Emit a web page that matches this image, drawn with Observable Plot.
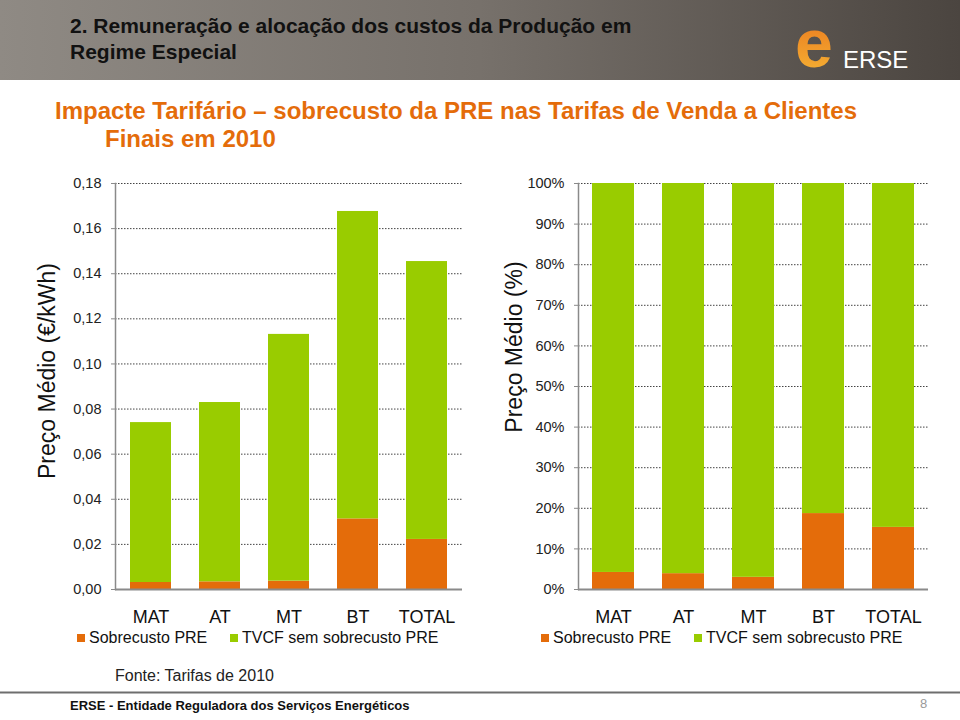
<!DOCTYPE html>
<html>
<head>
<meta charset="utf-8">
<script src="https://cdn.jsdelivr.net/npm/d3@7"></script>
<script src="https://cdn.jsdelivr.net/npm/@observablehq/plot@0.6"></script>
<style>
  html, body { margin: 0; padding: 0; background: #fff; }
  #page { position: relative; width: 960px; height: 720px; overflow: hidden; background: #fff;
          font-family: "Liberation Sans", Arial, sans-serif; }
  #deco { position: absolute; left: 0; top: 0; }
  .chart { position: absolute; top: 170px; }
  #left { left: 0; }
  #right { left: 480px; }
</style>
</head>
<body>
<div id="page">
  <svg id="deco" width="960" height="720"></svg>
  <div class="chart" id="left"></div>
  <div class="chart" id="right"></div>
</div>
<script>
// ---- data ----
const categories = ["MAT", "AT", "MT", "BT", "TOTAL"];
const seriesNames = ["Sobrecusto PRE", "TVCF sem sobrecusto PRE"];
const seriesColors = ["#E46C0A", "#99CC00"];

// €/kWh
const sobrecustoEur = [0.0031, 0.0034, 0.0037, 0.0313, 0.0222];
const tvcfEur = [0.0709, 0.0795, 0.1094, 0.1363, 0.1232];
// %
const sobrecustoPct = [4.2, 3.9, 3.0, 18.7, 15.3];
const tvcfPct = [95.8, 96.1, 97.0, 81.3, 84.7];

const yTicksEur = [0, 0.02, 0.04, 0.06, 0.08, 0.10, 0.12, 0.14, 0.16, 0.18];
const yTicksPct = [0, 10, 20, 30, 40, 50, 60, 70, 80, 90, 100];

const titleLines = ["2. Remuneração e alocação dos custos da Produção em", "Regime Especial"];
const subtitleLines = ["Impacte Tarifário – sobrecusto da PRE nas Tarifas de Venda a Clientes", "Finais em 2010"];
const yLabelEur = "Preço Médio (€/kWh)";
const yLabelPct = "Preço Médio (%)";
const sourceText = "Fonte: Tarifas de 2010";
const footerText = "ERSE - Entidade Reguladora dos Serviços Energéticos";
const pageNumber = "8";

function rowsFrom(a, b) {
  const rows = [];
  categories.forEach((c, i) => {
    rows.push({cat: c, series: seriesNames[0], value: a[i]});
    rows.push({cat: c, series: seriesNames[1], value: b[i]});
  });
  return rows;
}

function makeChart({rows, domain, ticks, fmt, marginLeft, marginRight}) {
  return Plot.plot({
    width: 480, height: 480,
    marginLeft, marginRight, marginTop: 13, marginBottom: 61,
    style: {fontFamily: "'Liberation Sans', Arial, sans-serif", fontSize: "14px", color: "#222", background: "transparent", overflow: "visible"},
    x: {domain: categories, paddingInner: 0.4, paddingOuter: 0.2, label: null},
    y: {domain, label: null},
    color: {domain: seriesNames, range: seriesColors},
    marks: [
      Plot.gridY(ticks, {stroke: "#444", strokeOpacity: 1, strokeDasharray: "1.5,1.5", strokeWidth: 1}),
      Plot.barY(rows, {x: "cat", y: "value", fill: "series"}),
      Plot.frame({anchor: "left", stroke: "#8a8a8a", strokeWidth: 1.5}),
      Plot.ruleY([0], {stroke: "#8a8a8a", strokeWidth: 2}),
      Plot.axisY({ticks, tickFormat: fmt, tickSize: 4, tickPadding: 10, stroke: "#8a8a8a", fontSize: 14.5, label: null}),
      Plot.axisX({tickSize: 0, tickPadding: 21, fontSize: 18, fill: "#111", label: null})
    ]
  });
}

document.getElementById("left").appendChild(makeChart({
  rows: rowsFrom(sobrecustoEur, tvcfEur), domain: [0, 0.18], ticks: yTicksEur,
  fmt: d => d.toFixed(2).replace(".", ","), marginLeft: 115, marginRight: 18
}));
document.getElementById("right").appendChild(makeChart({
  rows: rowsFrom(sobrecustoPct, tvcfPct), domain: [0, 100], ticks: yTicksPct,
  fmt: d => d + "%", marginLeft: 98, marginRight: 32
}));

// ---- decoration: header, titles, legends, footer ----
const svg = d3.select("#deco");
const defs = svg.append("defs");
const hg = defs.append("linearGradient").attr("id", "hdr").attr("x1", 0).attr("x2", 1).attr("y1", 0).attr("y2", 0);
hg.append("stop").attr("offset", 0).attr("stop-color", "#8f8a84");
hg.append("stop").attr("offset", 0.5).attr("stop-color", "#77716b");
hg.append("stop").attr("offset", 1).attr("stop-color", "#4b4540");
const eg = defs.append("linearGradient").attr("id", "logo").attr("x1", 0).attr("x2", 0).attr("y1", 0).attr("y2", 1);
eg.append("stop").attr("offset", 0).attr("stop-color", "#e8701a");
eg.append("stop").attr("offset", 1).attr("stop-color", "#f6b636");

svg.append("rect").attr("x", 0).attr("y", 0).attr("width", 960).attr("height", 80).attr("fill", "url(#hdr)");

const font = "'Liberation Sans', Arial, sans-serif";
titleLines.forEach((t, i) => {
  svg.append("text").attr("x", 70).attr("y", 33 + i * 26).attr("font-family", font)
    .attr("font-weight", "bold").attr("font-size", 21).attr("fill", "#111").text(t);
});
// logo
svg.append("text").attr("x", 795).attr("y", 67).attr("font-family", font).attr("font-weight", "bold")
  .attr("font-size", 68).attr("fill", "url(#logo)").text("e");
svg.append("text").attr("x", 843).attr("y", 68).attr("font-family", font)
  .attr("font-size", 24).attr("fill", "#fff").text("ERSE");

subtitleLines.forEach((t, i) => {
  svg.append("text").attr("x", i === 0 ? 55 : 105).attr("y", 118.5 + i * 28).attr("font-family", font)
    .attr("font-weight", "bold").attr("font-size", 24).attr("fill", "#E46C0A").text(t);
});

// rotated y labels
[[yLabelEur, 55, 371], [yLabelPct, 522, 347]].forEach(([t, x, y]) => {
  svg.append("text").attr("transform", `translate(${x},${y}) rotate(-90)`).attr("text-anchor", "middle")
    .attr("font-family", font).attr("font-size", 23).attr("fill", "#111").text(t);
});

// legends
[[77, 230], [541, 694]].forEach(xs => {
  seriesNames.forEach((name, i) => {
    svg.append("rect").attr("x", xs[i]).attr("y", 634).attr("width", 8).attr("height", 8).attr("fill", seriesColors[i]);
    svg.append("text").attr("x", xs[i] + 12).attr("y", 643).attr("font-family", font)
      .attr("font-size", 16).attr("fill", "#111").text(name);
  });
});

// footer
svg.append("text").attr("x", 115).attr("y", 681).attr("font-family", font).attr("font-size", 16).attr("fill", "#222").text(sourceText);
svg.append("line").attr("x1", 0).attr("x2", 960).attr("y1", 692.5).attr("y2", 692.5).attr("stroke", "#6e6e6e").attr("stroke-width", 2);
svg.append("text").attr("x", 70).attr("y", 710).attr("font-family", font).attr("font-weight", "bold")
  .attr("font-size", 13).attr("fill", "#111").text(footerText);
svg.append("text").attr("x", 920).attr("y", 708).attr("font-family", font).attr("font-size", 13).attr("fill", "#9a9a9a").text(pageNumber);
</script>
</body>
</html>
